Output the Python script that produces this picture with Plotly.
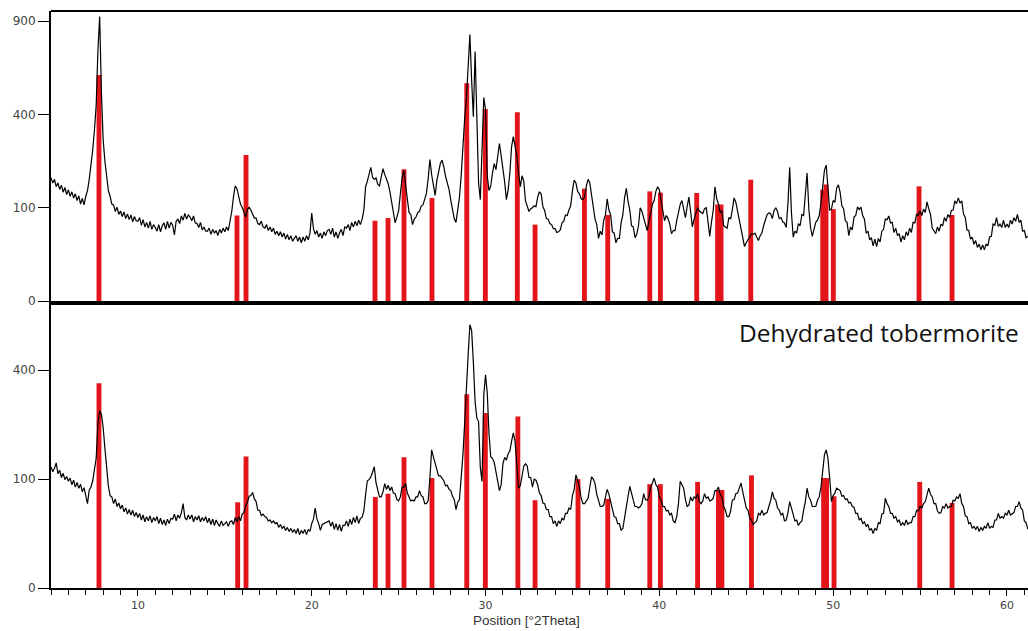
import numpy as np
import plotly.graph_objects as go

# 2theta grid: scan from 5.0 deg in 0.1 deg steps
theta_start = 5.0
theta_step = 0.1

# Measured pattern (counts), upper panel
top_counts = [
    175, 160, 170, 150, 160, 143, 154, 136, 148, 130,
    142, 126, 137, 122, 132, 116, 127, 108, 121, 106,
    126, 140, 170, 210, 262, 336, 440, 720, 930, 500,
    300, 225, 172, 140, 126, 108, 106, 92, 101, 86,
    93, 82, 91, 78, 87, 76, 85, 72, 82, 74,
    73, 80, 66, 76, 63, 71, 61, 73, 59, 67,
    62, 56, 67, 55, 65, 70, 59, 73, 61, 71,
    66, 50, 73, 77, 69, 83, 75, 88, 77, 85,
    81, 74, 83, 70, 69, 62, 71, 58, 63, 56,
    56, 61, 51, 59, 53, 57, 49, 59, 53, 61,
    55, 63, 57, 71, 92, 125, 152, 145, 122, 108,
    101, 89, 81, 96, 101, 95, 87, 79, 79, 69,
    67, 73, 63, 61, 67, 57, 63, 55, 61, 51,
    56, 49, 55, 47, 53, 44, 51, 43, 49, 41,
    45, 49, 41, 47, 39, 47, 41, 49, 43, 53,
    89, 60, 51, 57, 47, 53, 45, 55, 49, 57,
    59, 51, 61, 47, 55, 45, 53, 59, 49, 63,
    61, 67, 57, 71, 63, 73, 65, 75, 67, 77,
    95, 150, 165, 188, 205, 176, 170, 174, 156, 152,
    174, 201, 184, 172, 158, 137, 113, 92, 70, 81,
    94, 132, 175, 195, 148, 120, 90, 86, 67, 77,
    81, 90, 92, 104, 106, 120, 133, 172, 230, 183,
    152, 128, 167, 193, 217, 228, 207, 178, 162, 143,
    117, 96, 78, 71, 92, 123, 182, 288, 382, 470,
    640, 815, 560, 390, 715, 420, 160, 118, 250, 475,
    420, 180, 140, 152, 188, 217, 198, 237, 285, 242,
    205, 163, 118, 142, 188, 274, 310, 268, 242, 188,
    150, 180, 165, 115, 100, 92, 98, 100, 104, 102,
    124, 137, 132, 102, 94, 78, 77, 69, 67, 60,
    60, 54, 55, 58, 70, 73, 85, 84, 95, 104,
    140, 168, 160, 138, 132, 120, 118, 124, 152, 170,
    160, 130, 110, 77, 67, 45, 56, 50, 75, 85,
    120, 95, 85, 55, 53, 39, 45, 45, 70, 85,
    123, 146, 114, 95, 65, 63, 46, 51, 65, 100,
    92, 78, 68, 57, 73, 89, 107, 116, 138, 150,
    142, 116, 97, 74, 84, 78, 68, 52, 57, 57,
    74, 88, 107, 116, 97, 80, 102, 124, 92, 63,
    77, 88, 100, 93, 90, 88, 98, 100, 72, 48,
    72, 94, 150, 120, 108, 90, 94, 65, 63, 61,
    80, 77, 96, 122, 112, 93, 80, 62, 47, 34,
    39, 43, 49, 52, 51, 53, 47, 42, 49, 53,
    65, 74, 86, 89, 88, 78, 94, 100, 92, 78,
    80, 72, 70, 62, 110, 205, 90, 47, 56, 53,
    69, 65, 86, 84, 122, 188, 98, 62, 48, 57,
    71, 75, 84, 110, 143, 197, 212, 148, 95, 97,
    116, 112, 146, 155, 136, 104, 98, 74, 71, 49,
    63, 58, 81, 84, 102, 96, 101, 84, 77, 53,
    56, 43, 46, 35, 44, 34, 45, 40, 56, 59,
    77, 76, 83, 70, 71, 54, 61, 49, 52, 40,
    49, 43, 55, 49, 61, 54, 71, 70, 87, 84,
    93, 84, 97, 90, 113, 98, 86, 61, 57, 52,
    63, 56, 68, 65, 80, 73, 86, 80, 94, 95,
    115, 109, 122, 110, 115, 87, 80, 58, 57, 44,
    47, 37, 42, 33, 37, 30, 36, 30, 37, 35,
    47, 48, 68, 66, 80, 64, 68, 62, 75, 62,
    68, 62, 75, 68, 80, 73, 86, 71, 75, 56,
    57, 46, 48,
]

# Measured pattern (counts), lower panel (dehydrated tobermorite)
bottom_counts = [
    124, 114, 121, 132, 110, 117, 103, 111, 99, 105,
    96, 102, 90, 98, 86, 94, 84, 91, 78, 85,
    72, 60, 81, 86, 97, 122, 142, 230, 265, 255,
    218, 165, 122, 88, 72, 70, 60, 67, 56, 61,
    53, 58, 49, 54, 46, 52, 45, 51, 43, 48,
    42, 47, 39, 45, 37, 43, 38, 44, 36, 42,
    38, 43, 35, 41, 34, 39, 33, 40, 35, 41,
    40, 46, 38, 45, 41, 48, 60, 42, 39, 45,
    40, 45, 37, 43, 39, 44, 37, 42, 38, 43,
    36, 41, 34, 40, 33, 39, 35, 32, 38, 33,
    35, 37, 32, 37, 38, 34, 42, 37, 43, 38,
    46, 48, 57, 62, 71, 72, 77, 67, 63, 51,
    51, 44, 46, 43, 42, 38, 39, 36, 38, 35,
    36, 31, 34, 30, 32, 28, 31, 27, 30, 26,
    29, 25, 30, 24, 28, 25, 29, 24, 29, 27,
    35, 40, 54, 40, 35, 28, 34, 35, 36, 37,
    38, 32, 37, 29, 35, 28, 34, 27, 33, 33,
    38, 32, 40, 34, 42, 36, 44, 35, 41, 42,
    50, 74, 97, 99, 104, 113, 124, 93, 80, 70,
    70, 78, 92, 82, 89, 80, 86, 76, 75, 66,
    64, 70, 86, 86, 92, 76, 70, 64, 65, 64,
    70, 70, 80, 72, 70, 60, 60, 64, 102, 161,
    145, 132, 122, 106, 106, 100, 97, 88, 89, 82,
    80, 71, 66, 52, 62, 66, 100, 150, 230, 315,
    459, 585, 560, 431, 292, 244, 233, 122, 96, 315,
    383, 320, 200, 145, 142, 133, 114, 94, 80, 90,
    130, 144, 138, 152, 158, 182, 203, 181, 122, 84,
    88, 104, 125, 130, 125, 103, 103, 86, 100, 98,
    90, 76, 72, 61, 60, 52, 52, 43, 43, 35,
    38, 32, 38, 35, 41, 39, 47, 47, 54, 52,
    72, 82, 108, 98, 86, 68, 60, 60, 65, 68,
    86, 104, 100, 92, 74, 65, 56, 56, 58, 70,
    82, 74, 61, 54, 43, 42, 35, 35, 28, 30,
    43, 60, 71, 87, 73, 65, 56, 56, 54, 56,
    60, 75, 66, 65, 70, 86, 93, 102, 90, 86,
    70, 65, 56, 56, 50, 51, 45, 47, 38, 36,
    43, 60, 96, 90, 84, 66, 56, 58, 70, 64,
    70, 68, 75, 63, 60, 64, 75, 68, 70, 64,
    65, 68, 80, 80, 86, 74, 70, 56, 51, 43,
    43, 50, 65, 66, 75, 76, 86, 93, 78, 65,
    54, 51, 41, 39, 34, 36, 38, 47, 45, 51,
    45, 47, 48, 56, 64, 78, 68, 65, 54, 51,
    45, 47, 38, 39, 48, 63, 53, 47, 38, 39,
    33, 36, 38, 51, 63, 84, 70, 65, 56, 56,
    56, 65, 70, 86, 122, 150, 161, 142, 102, 63,
    72, 76, 84, 82, 80, 71, 72, 66, 67, 61,
    62, 56, 55, 47, 47, 39, 41, 35, 37, 32,
    34, 28, 30, 25, 30, 28, 36, 35, 46, 47,
    68, 60, 56, 47, 47, 41, 43, 37, 39, 33,
    36, 33, 39, 34, 36, 36, 43, 43, 51, 50,
    56, 54, 60, 63, 75, 84, 74, 70, 60, 60,
    50, 47, 48, 56, 54, 60, 54, 56, 56, 65,
    64, 70, 68, 75, 60, 56, 44, 43, 35, 36,
    30, 32, 29, 32, 27, 31, 28, 32, 30, 36,
    30, 32, 31, 39, 39, 47, 41, 43, 41, 47,
    45, 51, 45, 47, 48, 56, 56, 63, 54, 51,
    38, 36, 29,
]

# Reference stick patterns (position deg 2theta, intensity counts)
top_ref_pos = [7.76, 15.70, 16.22, 23.64, 24.39, 25.31, 26.92, 28.92, 29.99, 31.83,
               32.85, 35.69, 37.03, 39.45, 40.06, 42.15, 43.35, 43.55, 45.26, 49.40,
               49.59, 50.01, 54.94, 56.84]
top_ref_int = [587, 84, 245, 74, 79, 199, 122, 544, 423, 409,
               67, 145, 85, 138, 135, 134, 107, 107, 169, 142,
               156, 97, 151, 85]

bottom_ref_pos = [7.76, 15.74, 16.22, 23.66, 24.39, 25.31, 26.92, 28.92, 29.99, 31.86,
                  32.85, 35.32, 37.03, 39.45, 40.06, 42.20, 43.40, 43.60, 45.30, 49.45,
                  49.62, 50.05, 54.98, 56.84]
bottom_ref_int = [354, 62, 146, 70, 75, 144, 102, 317, 258, 248,
                  65, 100, 67, 91, 91, 95, 81, 81, 107, 102,
                  102, 71, 95, 61]

top_ticks = [0, 100, 400, 900]
bottom_ticks = [0, 100, 400]
x_ticks = [10, 20, 30, 40, 50, 60]

theta_top = np.round(theta_start + theta_step * np.arange(len(top_counts)), 2)
theta_bot = np.round(theta_start + theta_step * np.arange(len(bottom_counts)), 2)

# square-root intensity scale
sq = lambda v: np.sqrt(np.asarray(v, dtype=float))

RED = "#e3141a"
BAR_W = 0.28

fig = go.Figure()
fig.add_trace(go.Scatter(x=theta_top, y=sq(top_counts), mode="lines",
                         line=dict(color="black", width=1.2), xaxis="x2", yaxis="y2",
                         showlegend=False, hoverinfo="skip"))
fig.add_trace(go.Bar(x=top_ref_pos, y=sq(top_ref_int), width=BAR_W,
                     marker=dict(color=RED, line=dict(width=0)), xaxis="x2", yaxis="y2",
                     showlegend=False))
fig.add_trace(go.Scatter(x=theta_bot, y=sq(bottom_counts), mode="lines",
                         line=dict(color="black", width=1.2), xaxis="x", yaxis="y",
                         showlegend=False, hoverinfo="skip"))
fig.add_trace(go.Bar(x=bottom_ref_pos, y=sq(bottom_ref_int), width=BAR_W,
                     marker=dict(color=RED, line=dict(width=0)), xaxis="x", yaxis="y",
                     showlegend=False))

split = (588 - 301) / 577.0
xr = [5.0, 61.21]
tickfont_y = dict(family="DejaVu Sans", size=12, color="#444")
tickfont_x = dict(family="DejaVu Sans", size=11, color="#444")

fig.update_layout(
    width=1028, height=631,
    margin=dict(l=51, r=0, t=11, b=43),
    paper_bgcolor="white", plot_bgcolor="white",
    barmode="overlay",
    xaxis=dict(domain=[0, 1], range=xr, anchor="y", showgrid=False, zeroline=False,
               showline=True, linecolor="black", linewidth=2,
               tickmode="array", tickvals=x_ticks, ticktext=[str(t) for t in x_ticks],
               ticks="outside", ticklen=6, tickcolor="black", tickwidth=1,
               tickfont=tickfont_x,
               minor=dict(dtick=1, tick0=0, ticks="outside", ticklen=5,
                          tickcolor="black", tickwidth=1, showgrid=False)),
    yaxis=dict(domain=[0, split], range=[0, 26.36], anchor="x", showgrid=False,
               zeroline=False, showline=True, linecolor="black", linewidth=2,
               tickmode="array", tickvals=list(sq(bottom_ticks)),
               ticktext=[str(t) for t in bottom_ticks],
               ticks="outside", ticklen=11, tickcolor="black", tickwidth=1,
               tickfont=tickfont_y),
    xaxis2=dict(domain=[0, 1], range=xr, anchor="y2", showgrid=False, zeroline=False,
                showline=True, linecolor="black", linewidth=4,
                showticklabels=False, ticks=""),
    yaxis2=dict(domain=[split, 1], range=[0, 31.08], anchor="x2", showgrid=False,
                zeroline=False, showline=True, linecolor="black", linewidth=2,
                tickmode="array", tickvals=list(sq(top_ticks)),
                ticktext=[str(t) for t in top_ticks],
                ticks="outside", ticklen=11, tickcolor="black", tickwidth=1,
                tickfont=tickfont_y),
    shapes=[dict(type="line", xref="paper", yref="paper", x0=0, x1=1, y0=1, y1=1,
                 line=dict(color="black", width=2))],
    annotations=[
        dict(text="Position [°2Theta]", xref="paper", yref="paper",
             x=(526.7 - 51) / 977.0, y=(588 - 620) / 577.0,
             xanchor="center", yanchor="middle", showarrow=False,
             font=dict(family="Liberation Sans", size=13.5, color="#333")),
        dict(text="Dehydrated tobermorite", xref="paper", yref="paper",
             x=(737 - 51) / 977.0, y=(588 - 332) / 577.0,
             xanchor="left", yanchor="middle", showarrow=False,
             font=dict(family="Open Sans", size=24.5, color="#111")),
    ],
)

fig.write_html("out.html", config={"displayModeBar": False},
               post_script="document.body.style.margin='0';document.body.style.overflow='hidden';")
